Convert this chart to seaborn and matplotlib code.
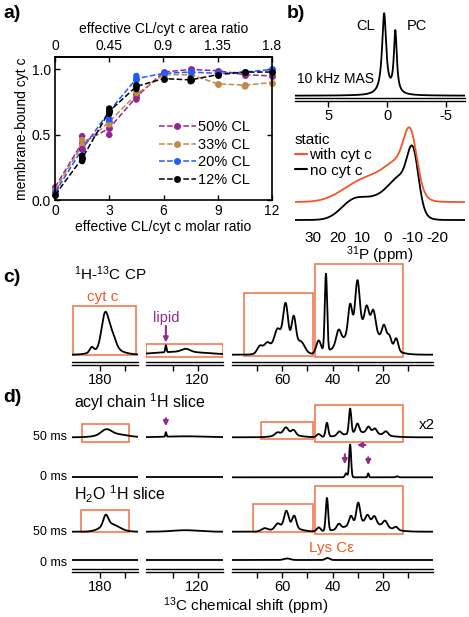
import numpy as np
import pandas as pd
import matplotlib
matplotlib.use("Agg")
import matplotlib.pyplot as plt
import matplotlib.transforms as mtransforms
from matplotlib.patches import Rectangle
from matplotlib.lines import Line2D
import seaborn as sns

sns.set_theme(style="white")
plt.rcParams["font.family"] = ["Liberation Sans", "DejaVu Sans"]
plt.rcParams["mathtext.default"] = "regular"
for k in ["axes.edgecolor", "text.color", "axes.labelcolor", "xtick.color", "ytick.color"]:
    plt.rcParams[k] = "black"

# -----------------------------------------------------------
# data: panel a (binding curves)
molar_ratio = [0, 1.5, 3, 4.5, 6, 7.5, 9, 10.5, 12]
bound_50 = [0.10, 0.44, 0.55, 0.79, 0.98, 1.00, 0.99, 0.96, 0.95]
bound_33 = [0.08, 0.42, 0.60, 0.81, 0.96, 0.96, 0.89, 0.88, 0.90]
bound_20 = [0.06, 0.39, 0.68, 0.93, 0.97, 0.98, 0.97, 0.98, 1.00]
bound_12 = [0.04, 0.32, 0.68, 0.87, 0.93, 0.92, 0.96, 0.98, 0.98]
series_names = ["50% CL", "33% CL", "20% CL", "12% CL"]
series_colors = ["#93278F", "#C08A4C", "#1F5BFF", "black"]

# replicate points
rep_x_50 = [1.5, 1.5, 3, 3, 4.5, 4.5]
rep_y_50 = [0.49, 0.39, 0.50, 0.60, 0.77, 0.81]
rep_x_33 = [1.5, 3, 4.5, 10.5]
rep_y_33 = [0.46, 0.58, 0.82, 0.87]
rep_x_20 = [3, 3, 4.5, 4.5]
rep_y_20 = [0.70, 0.62, 0.95, 0.92]
rep_x_12 = [1.5, 1.5, 3, 3, 4.5, 4.5, 7.5, 7.5]
rep_y_12 = [0.30, 0.34, 0.70, 0.66, 0.88, 0.85, 0.91, 0.93]

# panel b: 31P spectra, peaks as (ppm, height, fwhm)
mas_peaks = [(0.25, 81, 0.42), (-0.7, 62, 0.30)]
static_no_cytc = [(-10.2, 49, 5.2), (-6, 30, 10.6), (2, 22, 16.5), (14, 16, 11.8)]
static_with_cytc = [(-9.2, 49, 6.1), (-5, 25, 11.8), (3, 22, 18.8), (14, 10, 16.5)]

# panel c: 1H-13C CP, three ppm windows
cp_carbonyl = [(178.0, 33, 3.2), (175.3, 14, 3.5), (183.3, 5, 1.8), (177, 7, 11)]
cp_aromatic = [(132.9, 7, 0.6), (124.8, 3, 4), (127, 3, 24)]
cp_aliphatic = [(28, 30, 16), (42.6, 78, 1.1), (30.1, 46, 2.0), (33.0, 28, 1.8),
                (26.4, 20, 2.0), (23.8, 20, 2.0), (19.5, 16, 2.0), (17.4, 10, 1.8),
                (14.7, 12, 1.8), (37.6, 14, 2.2), (45.5, 13, 2.2), (58.6, 40, 2.3),
                (55.4, 30, 2.0), (61.8, 15, 2.8), (52.5, 10, 3.5), (68.8, 7, 2.5),
                (66.0, 7, 2.5), (60, 12, 11)]

# panel d: 2D slices, [carbonyl, aromatic, aliphatic] per trace
acyl_50 = [[(177.5, 5, 4.5), (175, 3.5, 12)],
           [(132.9, 4.5, 0.5), (125, 1, 20)],
           [(33.0, 25, 1.1), (42.2, 14, 1.2), (30.1, 9, 1.6), (25.7, 6, 1.8),
            (23.2, 5, 1.8), (18.8, 4, 2.0), (37.3, 4, 1.8), (58.5, 7, 2.3),
            (55.5, 5, 2.0), (61.8, 3, 2.3), (45.5, 3, 1.8), (28, 5, 16), (58, 3, 10)]]
acyl_0 = [[], [],
          [(33.0, 33, 0.9), (34.6, 4, 1.0), (25.8, 4, 0.6), (14.3, 1, 1)]]
water_50 = [[(177.7, 10, 2.2), (176, 8, 8)],
            [(125, 1.5, 12)],
            [(42.2, 33, 1.1), (29.8, 20, 1.7), (32.7, 9, 1.7), (26.1, 7, 1.8),
             (23.4, 7, 1.8), (19.1, 6, 2.0), (14.8, 3, 1.8), (37.5, 5, 1.8),
             (45.5, 4, 1.8), (58.3, 16, 2.1), (55.2, 12, 1.9), (61.8, 5, 2.3),
             (67, 3, 3), (27, 10, 16), (58, 5, 10)]]
water_0 = [[], [], [(58, 1.5, 3), (42, 2, 2)]]
trace_labels = ["50 ms", "0 ms", "50 ms", "0 ms"]

# -----------------------------------------------------------
W, H = 469, 617
fig = plt.figure(figsize=(W / 100, H / 100), dpi=100)
ORANGE = "#F37A52"
ORANGE_TXT = "#F15A24"
PURPLE = "#8E2C90"


def rect(x0, y0, x1, y1):
    return [x0 / W, 1 - y1 / H, (x1 - x0) / W, (y1 - y0) / H]


def ftext(x, y, s, **kw):
    fig.text(x / W, 1 - y / H, s, **kw)


def spectrum(x, peaks, lorentz=False):
    y = np.zeros_like(x)
    for pos, height, fwhm in peaks:
        if lorentz:
            y += height / (1 + (2 * (x - pos) / fwhm) ** 2)
        else:
            y += height * np.exp(-4 * np.log(2) * (x - pos) ** 2 / fwhm ** 2)
    return y


def ppm_axis(ax, lim, ylim, ticks, labels, gap=2.7):
    ax.set_xlim(*lim)
    ax.set_ylim(*ylim)
    for s in ["left", "right", "top"]:
        ax.spines[s].set_visible(False)
    ax.spines["bottom"].set_linewidth(1.0)
    ax.set_yticks([])
    ax.set_xticks(ticks)
    ax.set_xticklabels(labels)
    ax.tick_params(axis="x", direction="out", length=4, width=1, pad=2, labelsize=10.5, bottom=True)
    off = mtransforms.offset_copy(ax.transAxes, fig=fig, y=gap, units="dots")
    ax.plot([0, 1], [0, 0], transform=off, color="black", lw=1.0, clip_on=False)
    ax.set_facecolor("none")


def box(ax, x0, x1, y0, y1):
    ax.add_patch(Rectangle((x0, y0), x1 - x0, y1 - y0, fill=False, ec=ORANGE, lw=1.2))


# -----------------------------------------------------------
# a) binding curves
ax_a = fig.add_axes(rect(55, 57, 272, 200.3))
df_a = pd.DataFrame({
    "ratio": molar_ratio * 4,
    "bound": bound_50 + bound_33 + bound_20 + bound_12,
    "series": np.repeat(series_names, len(molar_ratio)),
})
palette = dict(zip(series_names, series_colors))
sns.lineplot(data=df_a, x="ratio", y="bound", hue="series", palette=palette,
             marker="o", markersize=5, markeredgewidth=0, linestyle="--", lw=1.1,
             ax=ax_a, legend=False, clip_on=False)
reps = [(rep_x_50, rep_y_50), (rep_x_33, rep_y_33), (rep_x_20, rep_y_20), (rep_x_12, rep_y_12)]
for (rx, ry), c in zip(reps, series_colors):
    sns.scatterplot(x=rx, y=ry, color=c, s=22, edgecolor="none", ax=ax_a, legend=False, zorder=3)
ax_a.set_xlim(0, 12)
ax_a.set_ylim(0, 1.095)
ax_a.set_xticks([0, 3, 6, 9, 12])
ax_a.set_yticks([0, 0.5, 1.0])
ax_a.set_yticklabels(["0.0", "0.5", "1.0"])
ax_a.tick_params(direction="in", length=3.5, width=1, right=True, left=True, bottom=True,
                 labelsize=10, pad=3)
for s in ax_a.spines.values():
    s.set_linewidth(1.2)
ax_a.set_xlabel("effective CL/cyt c molar ratio", fontsize=10, labelpad=1)
ax_a.set_ylabel("membrane-bound cyt c", fontsize=10, labelpad=2)
sec = ax_a.secondary_xaxis("top", functions=(lambda m: m * 0.15, lambda r: r / 0.15))
sec.set_xticks([0, 0.45, 0.9, 1.35, 1.8])
sec.set_xticklabels(["0", "0.45", "0.9", "1.35", "1.8"])
sec.tick_params(direction="in", length=3.5, width=1, labelsize=10, pad=3)
sec.set_xlabel("effective CL/cyt c area ratio", fontsize=10, labelpad=4)
handles = [Line2D([], [], color=c, ls="--", lw=1.1, marker="o", markersize=5, markeredgewidth=0)
           for c in series_colors]
ax_a.legend(handles, series_names, loc="upper left", bbox_to_anchor=(0.48, 0.56),
            frameon=False, fontsize=10.5, handlelength=2.5, handletextpad=0.15,
            labelspacing=0.25, borderpad=0, borderaxespad=0)

# -----------------------------------------------------------
# b) 31P spectra
ax_b1 = fig.add_axes(rect(295, 8, 465, 101))
x_mas = np.linspace(7.8, -6.6, 800)
sns.lineplot(x=x_mas, y=spectrum(x_mas, mas_peaks, lorentz=True), color="black", lw=1.3,
             ax=ax_b1, sort=False, estimator=None)
ppm_axis(ax_b1, (7.8, -6.6), (-5.3, 87.7), [5, 0, -5], ["5", "0", "-5"])
ax_b1.text(1.85, 70, "CL", fontsize=10.5, ha="center", va="center")
ax_b1.text(-2.5, 70, "PC", fontsize=10.5, ha="center", va="center")
ax_b1.text(7.6, 17, "10 kHz MAS", fontsize=10, ha="left", va="center")

ax_b2 = fig.add_axes(rect(295, 115, 465, 225))
x_st = np.linspace(37, -31, 600)
sns.lineplot(x=x_st, y=spectrum(x_st, static_no_cytc), color="black", lw=1.3,
             ax=ax_b2, sort=False, estimator=None)
sns.lineplot(x=x_st, y=18 + spectrum(x_st, static_with_cytc), color="#F2552C", lw=1.3,
             ax=ax_b2, sort=False, estimator=None)
ax_b2.set_xlim(37, -31)
ax_b2.set_ylim(-5, 105)
for s in ax_b2.spines.values():
    s.set_visible(False)
ax_b2.set_facecolor("none")
ax_b2.set_yticks([])
ax_b2.set_xticks([30, 20, 10, 0, -10, -20])
ax_b2.set_xticklabels(["30", "20", "10", "0", "-10", "-20"])
ax_b2.tick_params(axis="x", length=0, pad=4, labelsize=11)
ax_b2.set_xlabel(r"$^{31}$P (ppm)", fontsize=11, labelpad=0)
ax_b2.legend([Line2D([], [], color="#F2552C", lw=1.5), Line2D([], [], color="black", lw=1.5)],
             ["with cyt c", "no cyt c"], title="static", loc="upper left",
             bbox_to_anchor=(0.0, 0.84), frameon=False, fontsize=11, title_fontsize=11,
             handlelength=0.8, handletextpad=0.15, labelspacing=0.1, borderpad=0,
             borderaxespad=0, alignment="left")

# -----------------------------------------------------------
# c) and d) 13C spectra in three ppm windows
seg_px = [(72.3, 137.7), (146, 223.3), (231.7, 433.3)]
seg_ppm = [(191, 165), (141, 109.5), (80, 0)]
seg_ticks = [([180, 170], ["180", ""]), ([130, 120], ["", "120"]),
             ([70, 60, 50, 40, 30, 20, 10], ["", "60", "", "40", "", "20", ""])]
cp_segments = [cp_carbonyl, cp_aromatic, cp_aliphatic]

axes_c = []
for (x0, x1), lim, (tk, tl), peaks in zip(seg_px, seg_ppm, seg_ticks, cp_segments):
    ax = fig.add_axes(rect(x0, 262, x1, 365))
    xs = np.linspace(lim[0], lim[1], 700)
    sns.lineplot(x=xs, y=spectrum(xs, peaks), color="black", lw=1.3, ax=ax,
                 sort=False, estimator=None)
    ppm_axis(ax, lim, (-10.3, 92.7), tk, tl)
    axes_c.append(ax)

box(axes_c[0], 190.6, 165.8, -0.3, 48.7)
box(axes_c[1], 141.0, 109.8, -2.6, 10.4)
box(axes_c[2], 75, 47.7, -1.6, 62)
box(axes_c[2], 47.1, 12, -2.6, 90.4)
axes_c[0].text(179, 58, "cyt c", color=ORANGE_TXT, fontsize=11, ha="center", va="center")
axes_c[1].text(132.9, 36.4, "lipid", color=PURPLE, fontsize=10.5, ha="center", va="center")
axes_c[1].annotate("", xy=(132.9, 9.5), xytext=(132.9, 31.5),
                   arrowprops=dict(arrowstyle="-|>", color=PURPLE, lw=1.5, mutation_scale=7))

traces = [acyl_50, acyl_0, water_50, water_0]
offsets = [134.2, 94.2, 39.8, 11.5]
axes_d = []
for i, ((x0, x1), lim, (tk, tl)) in enumerate(zip(seg_px, seg_ppm, seg_ticks)):
    ax = fig.add_axes(rect(x0, 395, x1, 571.5))
    xs = np.linspace(lim[0], lim[1], 700)
    for tr, off in zip(traces, offsets):
        sns.lineplot(x=xs, y=off + spectrum(xs, tr[i]), color="black", lw=1.3, ax=ax,
                     sort=False, estimator=None)
    ppm_axis(ax, lim, (0, 176.5), tk, tl)
    axes_d.append(ax)

box(axes_d[0], 187.3, 168.3, 129.8, 147.2)
box(axes_d[2], 68.2, 47.9, 132.2, 149.2)
box(axes_d[2], 47.0, 12.2, 129.8, 166.5)
box(axes_d[0], 187.4, 168.4, 39.2, 61.5)
box(axes_d[2], 71.7, 47.9, 39.8, 67.2)
box(axes_d[2], 47.0, 12.2, 37.5, 85.5)

arrow = dict(arrowstyle="-|>", color=PURPLE, lw=1.5, mutation_scale=7)
axes_d[1].annotate("", xy=(132.9, 142.5), xytext=(132.9, 156), arrowprops=arrow)
axes_d[2].annotate("", xy=(35.1, 104.5), xytext=(35.1, 120), arrowprops=arrow)
axes_d[2].annotate("", xy=(25.8, 103.5), xytext=(25.8, 117), arrowprops=arrow)
axes_d[2].annotate("", xy=(31.4, 126.5), xytext=(25.8, 126.5), arrowprops=arrow)

# -----------------------------------------------------------
# labels
for lbl, y in zip(trace_labels, [437.3, 477.3, 531.7, 562.5]):
    ftext(66.7, y, lbl, fontsize=9, ha="right", va="center")
ftext(427, 425, "x2", fontsize=11, ha="center", va="center")
ftext(74, 401.7, r"acyl chain $^1$H slice", fontsize=11.5, ha="left", va="center")
ftext(74, 494.3, r"H$_2$O $^1$H slice", fontsize=11.5, ha="left", va="center")
ftext(331, 547.7, "Lys Cε", fontsize=11, color=ORANGE_TXT, ha="center", va="center")
ftext(74, 274, r"$^1$H-$^{13}$C CP", fontsize=11, ha="left", va="center")
ftext(246, 606, r"$^{13}$C chemical shift (ppm)", fontsize=11, ha="center", va="center")

for lbl, x, y in [("a)", 3, 13), ("b)", 287, 13), ("c)", 3, 277), ("d)", 3, 397)]:
    ftext(x, y, lbl, fontsize=14, fontweight="bold", ha="left", va="center")

fig.savefig("out.png", dpi=100)
